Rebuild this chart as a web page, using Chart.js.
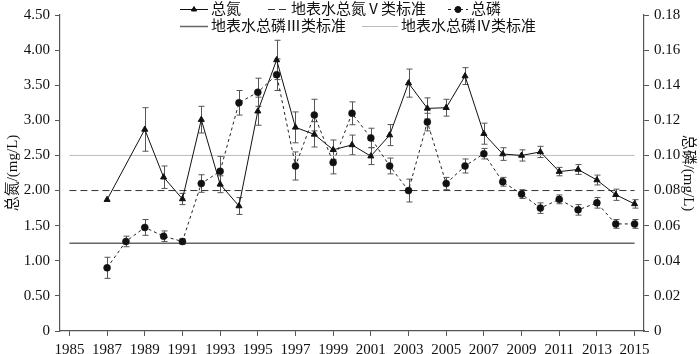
<!DOCTYPE html>
<html>
<head>
<meta charset="utf-8">
<script src="https://cdn.jsdelivr.net/npm/chart.js@4.4.1/dist/chart.umd.min.js"></script>
<style>
  html, body { margin: 0; padding: 0; background: #fff; }
</style>
</head>
<body>
<canvas id="chart" width="700" height="354"></canvas>
<script>
// ---- data ----
const YEARS = [1987, 1988, 1989, 1990, 1991, 1992, 1993, 1994, 1995, 1996,
               1997, 1998, 1999, 2000, 2001, 2002, 2003, 2004, 2005, 2006,
               2007, 2008, 2009, 2010, 2011, 2012, 2013, 2014, 2015];

// total nitrogen, mg/L (no sample in 1988)
const TN = [1.87, null, 2.87, 2.19, 1.88, 3.01, 2.09, 1.78, 3.13, 3.86,
            2.90, 2.80, 2.58, 2.65, 2.49, 2.79, 3.53, 3.17, 3.18, 3.63,
            2.81, 2.52, 2.50, 2.55, 2.27, 2.30, 2.15, 1.94, 1.81];
const TN_ERR = [0, null, 0.31, 0.16, 0.08, 0.19, 0.12, 0.12, 0.20, 0.28,
                0.22, 0.18, 0.14, 0.14, 0.12, 0.15, 0.20, 0.15, 0.12, 0.12,
                0.15, 0.09, 0.08, 0.08, 0.06, 0.07, 0.07, 0.08, 0.06];

// total phosphorus, mg/L
const TP = [0.036, 0.051, 0.059, 0.054, 0.051, 0.084, 0.091, 0.130, 0.136, 0.146,
            0.094, 0.123, 0.096, 0.124, 0.110, 0.094, 0.080, 0.119, 0.084, 0.094,
            0.101, 0.085, 0.078, 0.070, 0.075, 0.069, 0.073, 0.061, 0.061];
const TP_ERR = [0.006, 0.003, 0.0045, 0.003, 0.0015, 0.005, 0.0085, 0.007, 0.008, 0.009,
                0.008, 0.009, 0.0065, 0.0065, 0.0055, 0.0045, 0.0065, 0.005, 0.0035, 0.004,
                0.003, 0.0025, 0.0025, 0.003, 0.0025, 0.003, 0.003, 0.0025, 0.0025];

// surface water quality standards
const STD_SPAN = [1985, 2015];
const TN_CLASS_V = 2.0;
const TP_CLASS_III = 0.05;
const TP_CLASS_IV = 0.10;

const TICK_YEARS = [1985, 1987, 1989, 1991, 1993, 1995, 1997, 1999,
                    2001, 2003, 2005, 2007, 2009, 2011, 2013, 2015];

const LABELS = ['总氮', '地表水总氮Ⅴ类标准', '总磷', '地表水总磷Ⅲ类标准', '地表水总磷Ⅳ类标准'];

// ---- helpers ----
const SERIF = "'Liberation Serif', 'Times New Roman', 'Noto Sans CJK SC', serif";
const tickFont = { family: SERIF, size: 15 };

const toPoints = (xs, ys) => xs.map((x, i) => ({ x: x, y: ys[i] }));
const flat = (v) => STD_SPAN.map(x => ({ x: x, y: v }));

// error bars drawn through the chart's own scales
const errorBars = {
    id: 'errorBars',
    beforeDatasetsDraw(chart) {
        const ctx = chart.ctx;
        chart.data.datasets.forEach((ds, i) => {
            if (!ds.errors) return;
            const meta = chart.getDatasetMeta(i);
            const yScale = chart.scales[ds.yAxisID];
            ctx.save();
            ctx.strokeStyle = '#555';
            ctx.lineWidth = 1;
            meta.data.forEach((pt, j) => {
                const v = ds.data[j].y;
                const e = ds.errors[j];
                if (v == null || !e) return;
                const x = Math.round(pt.x) + 0.5;
                const top = yScale.getPixelForValue(v + e);
                const bot = yScale.getPixelForValue(v - e);
                ctx.beginPath();
                ctx.moveTo(x, top); ctx.lineTo(x, bot);
                ctx.moveTo(x - 3, top); ctx.lineTo(x + 3, top);
                ctx.moveTo(x - 3, bot); ctx.lineTo(x + 3, bot);
                ctx.stroke();
            });
            ctx.restore();
        });
    }
};

// legend laid over the top of the plot, two rows
const LEGEND_SLOTS = [
    { x: 180, y: 9, w: 28 },
    { x: 268, y: 9, w: 20 },
    { x: 448, y: 9, w: 20 },
    { x: 180, y: 26, w: 28 },
    { x: 362, y: 26, w: 36 }
];

const overlayLegend = {
    id: 'overlayLegend',
    afterDraw(chart) {
        const ctx = chart.ctx;
        chart.data.datasets.forEach((ds, i) => {
            const s = LEGEND_SLOTS[i];
            ctx.save();
            ctx.strokeStyle = ds.borderColor;
            ctx.lineWidth = ds.borderWidth;
            ctx.setLineDash(ds.borderDash || []);
            ctx.beginPath();
            ctx.moveTo(s.x, s.y + 0.5);
            ctx.lineTo(s.x + s.w, s.y + 0.5);
            ctx.stroke();
            ctx.setLineDash([]);
            if (ds.pointRadius > 0) {
                Chart.helpers.drawPoint(ctx, {
                    pointStyle: ds.pointStyle,
                    radius: ds.pointRadius - 0.5,
                    rotation: 0,
                    borderWidth: 1
                }, s.x + s.w / 2, s.y + 0.5);
                ctx.fillStyle = ds.pointBackgroundColor;
                ctx.fill();
            }
            ctx.fillStyle = '#111';
            ctx.font = "15px " + SERIF;
            ctx.textBaseline = 'middle';
            ctx.fillText(ds.label, s.x + s.w + 3, s.y + 1);
            ctx.restore();
        });
    }
};

const data = {
    datasets: [
        {
            label: LABELS[0],
            data: toPoints(YEARS, TN),
            errors: TN_ERR,
            yAxisID: 'y',
            borderColor: '#111',
            borderWidth: 1,
            pointStyle: 'triangle',
            pointRadius: 3.5,
            pointBorderWidth: 1,
            pointBackgroundColor: '#111',
            pointBorderColor: '#111',
            spanGaps: true,
            order: 1
        },
        {
            label: LABELS[1],
            data: flat(TN_CLASS_V),
            yAxisID: 'y',
            borderColor: '#333',
            borderWidth: 1,
            borderDash: [7, 4],
            pointRadius: 0,
            order: 3
        },
        {
            label: LABELS[2],
            data: toPoints(YEARS, TP),
            errors: TP_ERR,
            yAxisID: 'y1',
            borderColor: '#222',
            borderWidth: 1,
            borderDash: [3, 3],
            pointStyle: 'circle',
            pointRadius: 3.5,
            pointBorderWidth: 0.5,
            pointBackgroundColor: '#111',
            pointBorderColor: '#111',
            order: 0
        },
        {
            label: LABELS[3],
            data: flat(TP_CLASS_III),
            yAxisID: 'y1',
            borderColor: '#666',
            borderWidth: 1.5,
            pointRadius: 0,
            order: 4
        },
        {
            label: LABELS[4],
            data: flat(TP_CLASS_IV),
            yAxisID: 'y1',
            borderColor: '#bbb',
            borderWidth: 1,
            pointRadius: 0,
            order: 5
        }
    ]
};

const axisLine = { color: '#555', width: 1.2 };
const tickMarks = { drawOnChartArea: false, drawTicks: true, tickLength: 5, color: '#555' };

const options = {
    responsive: false,
    animation: false,
    layout: { padding: { top: 15, left: 0, right: 0, bottom: 0 } },
    plugins: {
        legend: { display: false },
        tooltip: { enabled: false }
    },
    scales: {
        x: {
            type: 'linear',
            min: 1984.5,
            max: 2015.5,
            afterBuildTicks: s => { s.ticks = TICK_YEARS.map(v => ({ value: v })); },
            afterFit: s => { s.height = 23; },
            grid: tickMarks,
            border: axisLine,
            ticks: {
                color: '#111',
                font: tickFont,
                padding: 5,
                maxRotation: 0,
                autoSkip: false,
                callback: v => String(v)
            }
        },
        y: {
            position: 'left',
            min: 0,
            max: 4.5,
            afterFit: s => { s.width = 60; },
            grid: tickMarks,
            border: axisLine,
            ticks: {
                stepSize: 0.5,
                color: '#111',
                font: tickFont,
                padding: 5,
                callback: v => v === 0 ? '0' : v.toFixed(2)
            },
            title: {
                display: true,
                text: '总氮/(mg/L)',
                color: '#111',
                font: { family: SERIF, size: 15 },
                padding: { top: 4, bottom: 3 }
            }
        },
        y1: {
            position: 'right',
            min: 0,
            max: 0.18,
            afterFit: s => { s.width = 56; },
            grid: tickMarks,
            border: axisLine,
            ticks: {
                stepSize: 0.02,
                color: '#111',
                font: tickFont,
                padding: 5,
                callback: v => Math.abs(v) < 1e-9 ? '0' : v.toFixed(2)
            },
            title: {
                display: true,
                text: '总磷/(mg/L)',
                color: '#111',
                font: { family: SERIF, size: 15 },
                padding: { top: 3, bottom: 3 }
            }
        }
    }
};

new Chart(document.getElementById('chart').getContext('2d'), {
    type: 'line',
    data,
    options,
    plugins: [errorBars, overlayLegend]
});
</script>
</body>
</html>
